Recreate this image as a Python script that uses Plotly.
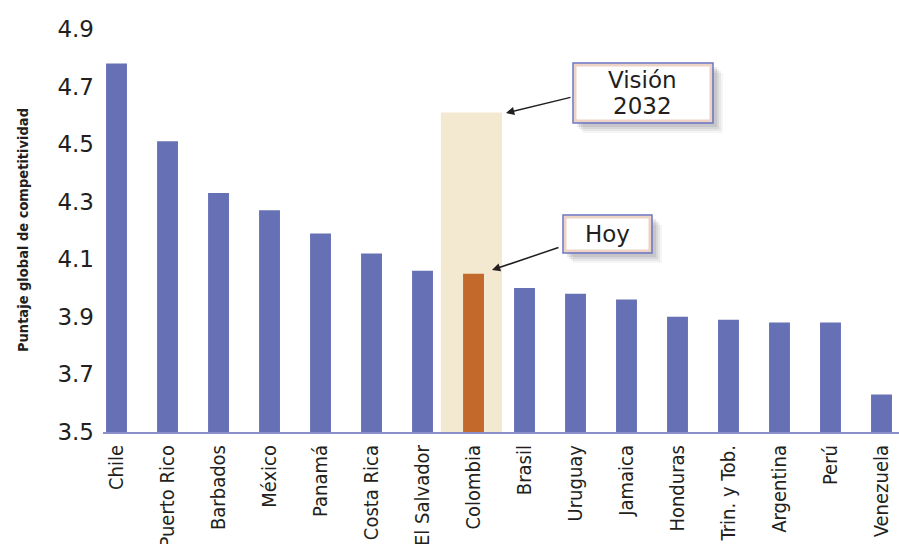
import plotly.graph_objects as go

# Global competitiveness score by country
countries = ["Chile", "Puerto Rico", "Barbados", "México", "Panamá", "Costa Rica",
             "El Salvador", "Colombia", "Brasil", "Uruguay", "Jamaica", "Honduras",
             "Trin. y Tob.", "Argentina", "Perú", "Venezuela"]
scores = [4.78, 4.51, 4.33, 4.27, 4.19, 4.12, 4.06, 4.05, 4.00, 3.98, 3.96,
          3.90, 3.89, 3.88, 3.88, 3.63]
highlight = "Colombia"
vision_2032 = 4.61
y_ticks = [3.5, 3.7, 3.9, 4.1, 4.3, 4.5, 4.7, 4.9]

BLUE = "#6670b5"
ORANGE = "#c4692c"
SHADE = "#f3e9d0"
TEXT = "#231f20"
NARROW = "DejaVu Sans Condensed, Liberation Sans Narrow, sans-serif"

# plot area in pixels (899 x 544 page)
L, R, T, B = 103, 0, 29, 112
W, H = 899, 544
PW, PH = W - L - R, H - T - B


def px(x):
    return (x - L) / PW


def py(y):
    return (H - B - y) / PH


colors = [ORANGE if c == highlight else BLUE for c in countries]
hi = countries.index(highlight)

fig = go.Figure()
fig.add_trace(go.Bar(x=countries, y=scores, marker_color=colors,
                     marker_line_width=0, hoverinfo="x+y"))

shapes = []
# vision band behind Colombia
shapes.append(dict(type="rect", xref="x", yref="y", x0=hi - 0.64, x1=hi + 0.56,
                   y0=3.5, y1=vision_2032, fillcolor=SHADE, line_width=0,
                   layer="below"))


def box(x0, y0, x1, y1):
    out = []
    for k, op in [(10, 0.05), (8, 0.07), (6, 0.09), (4, 0.11)]:
        out.append(dict(type="rect", xref="paper", yref="paper",
                        x0=px(x0 + k), x1=px(x1 + k), y0=py(y1 + k), y1=py(y0 + k),
                        fillcolor=f"rgba(60,60,70,{op})", line_width=0))
    out.append(dict(type="rect", xref="paper", yref="paper",
                    x0=px(x0 + 2), x1=px(x1 - 2), y0=py(y1 - 2), y1=py(y0 + 2),
                    fillcolor="white", line=dict(color="#ecd3c6", width=3)))
    out.append(dict(type="rect", xref="paper", yref="paper",
                    x0=px(x0), x1=px(x1), y0=py(y1), y1=py(y0),
                    fillcolor="rgba(0,0,0,0)", line=dict(color="#6b74c2", width=1.5)))
    return out


shapes += box(573, 63, 713, 123)
shapes += box(563, 215, 652, 253)

font_box = dict(family="DejaVu Sans, Verdana", size=23, color=TEXT)


def label(text, x, y):
    return dict(text=text, x=px(x), y=py(y), xref="paper", yref="paper",
                xanchor="center", yanchor="middle", showarrow=False, font=font_box)


def arrow(x, y, ax, ay):
    return dict(text="", x=px(x), y=py(y), xref="paper", yref="paper",
                ax=ax, ay=ay, showarrow=True, arrowhead=2, arrowsize=1.1,
                arrowwidth=1.5, arrowcolor=TEXT)


annotations = [
    label("Visión", 642, 80),
    label("2032", 642, 106),
    label("Hoy", 607, 234),
    arrow(506, 113, 66, -16),
    arrow(492, 270, 68, -23),
    dict(text="<b>Puntaje global de competitividad</b>", x=px(23), y=py(230),
         xref="paper", yref="paper", xanchor="center", yanchor="middle",
         showarrow=False, textangle=-90,
         font=dict(family=NARROW, size=14.5, color=TEXT)),
]

fig.update_layout(
    width=W, height=H,
    margin=dict(l=L, r=R, t=T, b=B, autoexpand=False),
    paper_bgcolor="white", plot_bgcolor="white",
    bargap=0.59,
    showlegend=False,
    shapes=shapes,
    annotations=annotations,
    xaxis=dict(range=[-0.265, 15.343], tickangle=-90, showgrid=False,
               automargin=False,
               showline=True, linecolor="#8a8ec9", linewidth=2, ticks="",
               ticklabelstandoff=3,
               tickfont=dict(family=NARROW, size=20, color=TEXT)),
    yaxis=dict(range=[3.5, 4.9], tickvals=y_ticks,
               ticktext=[f"{v:.1f}" for v in y_ticks],
               automargin=False,
               showgrid=False, zeroline=False, showline=False, ticks="",
               ticklabelstandoff=8,
               tickfont=dict(family="DejaVu Sans, Verdana", size=23, color=TEXT)),
)

# drop the default page margin so the figure fills the window exactly
fig.write_html("out.html", config={"displayModeBar": False},
               post_script="document.body.style.margin='0';")
